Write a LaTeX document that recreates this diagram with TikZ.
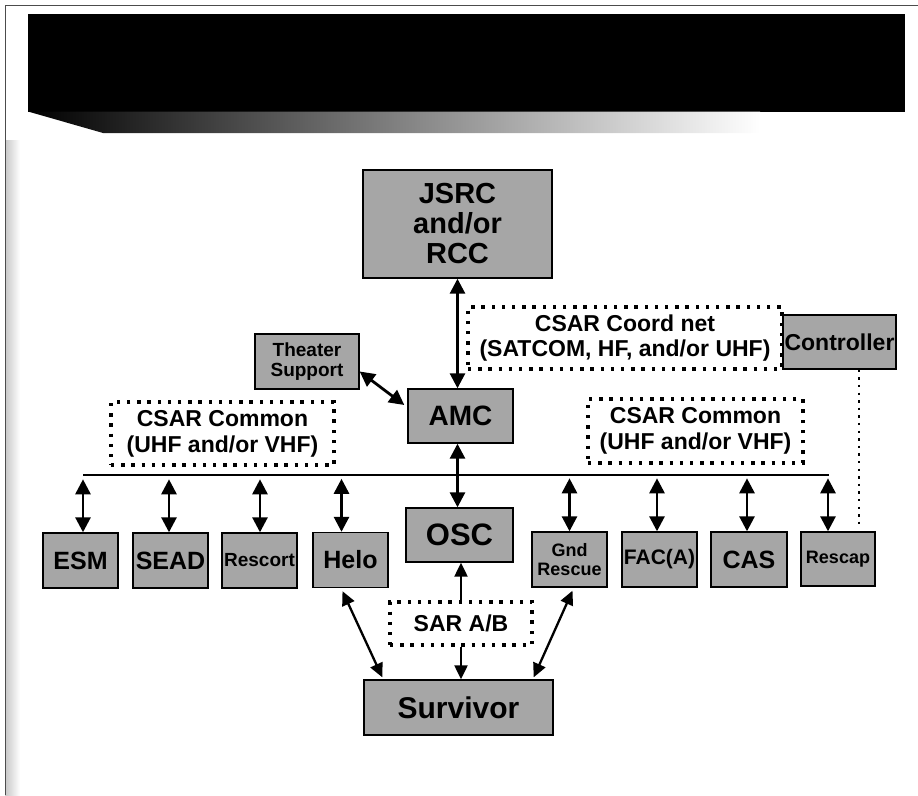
\documentclass[tikz,border=0pt]{standalone}
\usepackage{fontspec}
\setmainfont{Liberation Sans}
\usetikzlibrary{arrows.meta}

\newcommand{\boxfont}[2]{\bfseries\fontsize{#1}{#2}\selectfont}

\begin{document}
\begin{tikzpicture}[x=1pt,y=-1pt,
	unit/.style={draw=black,line width=1.4pt,fill=black!35,align=center,inner sep=1pt},
	net/.style={draw=black,line width=3.4pt,dash pattern=on 3.4pt off 6.8pt,align=center,inner sep=1pt},
	link/.style={line width=2.8pt,{Triangle[width=15pt,length=15pt]}-{Triangle[width=15pt,length=15pt]}},
	thinlink/.style={line width=2.3pt,{Triangle[width=13pt,length=14pt]}-{Triangle[width=13pt,length=14pt]}},
	tip/.style={line width=2.3pt,-{Triangle[width=13pt,length=14pt]}},
	dotline/.style={line width=2.4pt,dash pattern=on 2.4pt off 5.2pt}]
\useasboundingbox (0,0) rectangle (918,795);

% frame and title bar
\shade[left color=black!22,right color=white] (5,140) rectangle (20,795);
\draw[black!70,line width=1pt] (5,795) -- (5,5) -- (918,5);
\fill[black] (28,14) rectangle (905,112);
\shade[left color=black,middle color=black!60,right color=white] (28,111.5) -- (103,133) -- (760,133) -- (760,111.5) -- cycle;

% centres
\node[unit,minimum width=189pt,minimum height=108pt,font=\boxfont{29}{30}] (jsrc) at (457.5,224) {JSRC\\and/or\\RCC};
\node[unit,minimum width=105pt,minimum height=54pt,font=\boxfont{28}{30}] (amc) at (460.5,416) {AMC};
\node[unit,minimum width=104pt,minimum height=55pt,font=\boxfont{19}{20}] (theater) at (307,361.5) {Theater\\Support};
\node[unit,minimum width=113pt,minimum height=54pt,font=\boxfont{23}{25}] (ctrl) at (839.5,342) {Controller};
\node[unit,minimum width=107pt,minimum height=54pt,font=\boxfont{31}{32}] (osc) at (459.5,535) {OSC};
\node[unit,minimum width=189pt,minimum height=55pt,font=\boxfont{30}{32}] (surv) at (458.5,707.5) {Survivor};

% nets
\node[net,minimum width=314pt,minimum height=62pt,font=\boxfont{23}{25}] (coord) at (625,338) {CSAR Coord net\\(SATCOM, HF, and/or UHF)};
\node[net,minimum width=223pt,minimum height=63pt,font=\boxfont{23}{26}] (commonl) at (222.5,433.5) {CSAR Common\\(UHF and/or VHF)};
\node[net,minimum width=215pt,minimum height=64pt,font=\boxfont{23}{26}] (commonr) at (695.5,431) {CSAR Common\\(UHF and/or VHF)};
\node[net,minimum width=142pt,minimum height=43pt,font=\boxfont{23}{25}] (sar) at (461,623.5) {SAR A/B};

% forces on the common net
\node[unit,minimum width=75pt,minimum height=55pt,font=\boxfont{25}{26}] (esm) at (80.5,560.5) {ESM};
\node[unit,minimum width=75pt,minimum height=55pt,font=\boxfont{25}{26}] (sead) at (170.5,560.5) {SEAD};
\node[unit,minimum width=75pt,minimum height=55pt,font=\boxfont{19}{20}] (rescort) at (259.5,560.5) {Rescort};
\node[unit,minimum width=75pt,minimum height=55pt,font=\boxfont{25}{26}] (helo) at (350.5,560) {Helo};
\node[unit,minimum width=75pt,minimum height=55pt,font=\boxfont{18}{19}] (gnd) at (569.5,559.5) {Gnd\\Rescue};
\node[unit,minimum width=75pt,minimum height=55pt,font=\boxfont{21}{22}] (faca) at (659.5,559.5) {FAC(A)};
\node[unit,minimum width=76pt,minimum height=55pt,font=\boxfont{25}{26}] (cas) at (749,559.5) {CAS};
\node[unit,minimum width=74pt,minimum height=54pt,font=\boxfont{18}{19}] (rescap) at (838,559) {Rescap};

% common net bus
\coordinate (busl) at (83,475);
\coordinate (busr) at (829,475);
\draw[line width=2.4pt] (busl) -- (busr);

\draw[link] (jsrc.south) -- (jsrc.south |- amc.north);
\draw[link] ([xshift=-3pt]amc.south) -- ([xshift=-3pt]amc.south |- osc.north);
\draw[link] ([yshift=-10pt]theater.east) -- ([xshift=-3pt,yshift=11pt]amc.west);
\foreach \n/\d in {esm/2.5,sead/-1.5,rescort/0.5,helo/-9,gnd/0,faca/-2.5,cas/-2,rescap/-10}
	\draw[link] ([xshift=\d pt,yshift=53pt]\n.north) -- ([xshift=\d pt]\n.north);
\draw[tip] (sar.north) -- (sar.north |- osc.south);
\draw[tip] (sar.south) -- (sar.south |- surv.north);
\draw[thinlink] ([xshift=-8pt,yshift=-3pt]helo.south) -- ([xshift=19pt,yshift=2pt]surv.north west);
\draw[thinlink] ([xshift=3pt,yshift=-3pt]gnd.south) -- ([xshift=-20pt,yshift=2pt]surv.north east);
\draw[dotline] ([xshift=19.5pt]ctrl.south) -- ([xshift=21pt,yshift=7pt]rescap.north);
\end{tikzpicture}
\end{document}
